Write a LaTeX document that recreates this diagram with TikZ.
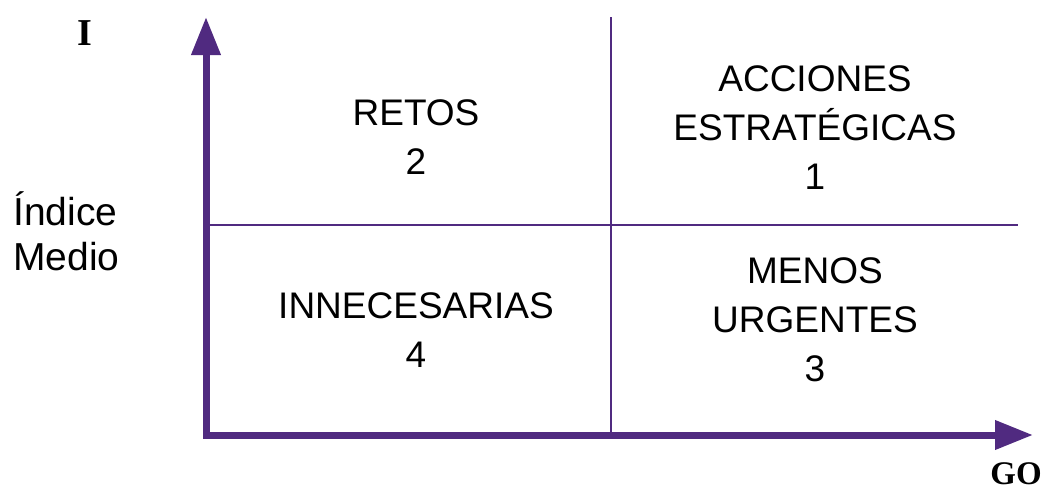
\documentclass[tikz,border=0pt]{standalone}
\usepackage{fontspec}
\setmainfont{Liberation Sans}
\newfontfamily\axisfont{Liberation Serif}
\usetikzlibrary{arrows.meta}
\definecolor{axispurple}{RGB}{80,42,128}
\tikzset{
  axisline/.style={draw=axispurple, line width=7pt, line join=miter,
    {Triangle[length=38pt,width=28pt]}-{Triangle[length=38pt,width=28pt]}},
  divider/.style={draw=axispurple, line width=2.2pt},
  quadtext/.style={align=center, inner sep=0pt, font=\fontsize{37}{49}\selectfont},
  sidetext/.style={align=left, inner sep=0pt, font=\fontsize{39}{45}\selectfont},
  axislabel/.style={inner sep=0pt, font=\axisfont\bfseries\fontsize{38}{40}\selectfont},
  golabel/.style={inner sep=0pt, font=\axisfont\bfseries\fontsize{33}{40}\selectfont}
}
\begin{document}
\begin{tikzpicture}[x=1pt,y=-1pt]
\useasboundingbox (0,0) rectangle (1050,493);
\coordinate (Y) at (206,17);
\coordinate (O) at (206,435);
\coordinate (X) at (1033,435);
\coordinate (vtop) at (611,17);
\coordinate (vbot) at (611,435);
\coordinate (hleft) at (206,225);
\coordinate (hright) at (1018,225);
\draw[divider] (vtop) -- (vbot);
\draw[divider] (hleft) -- (hright);
\draw[axisline] (Y) -- (O) -- (X);
\node[quadtext] (q2) at (416,137.5) {RETOS\\2};
\node[quadtext] (q1) at (815,127.5) {ACCIONES\\ESTRATÉGICAS\\1};
\node[quadtext] (q4) at (416,330) {INNECESARIAS\\4};
\node[quadtext] (q3) at (815,320) {MENOS\\URGENTES\\3};
\node[sidetext, anchor=west] (side) at (13,231) {Índice\\Medio};
\node[axislabel] (ilab) at (85,33) {I};
\node[golabel] (golab) at (1016,474) {GO};
\end{tikzpicture}
\end{document}
